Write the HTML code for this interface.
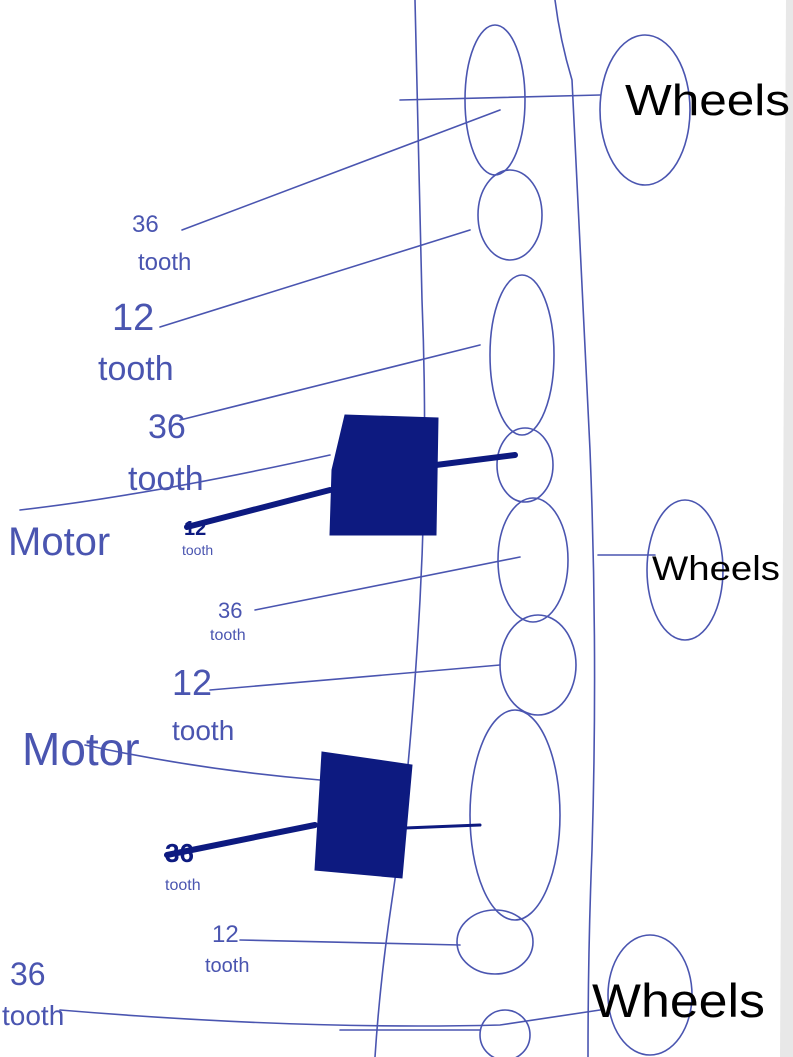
<!DOCTYPE html>
<html><head><meta charset="utf-8"><style>
html,body{margin:0;padding:0;background:#fff;}
svg{display:block}
text{font-family:"Liberation Sans",sans-serif;fill:#4a55b0;}
</style></head><body>
<svg width="793" height="1057" viewBox="0 0 793 1057" xmlns="http://www.w3.org/2000/svg">
<rect width="793" height="1057" fill="#fff"/>
<polygon points="786,0 793,0 793,1057 780,1057" fill="#e8e8e8"/>
<g fill="none" stroke="#4a55b0" stroke-width="1.6" stroke-linecap="round">
<path d="M415,0 Q418,150 422,300 Q428,450 420,600 Q410,780 392,900 Q380,980 375,1057"/>
<path d="M555,0 Q560,40 572,80 Q580,250 590,450 Q598,650 592,850 Q588,950 588,1057"/>
<ellipse cx="495" cy="100" rx="30" ry="75"/>
<ellipse cx="510" cy="215" rx="32" ry="45"/>
<ellipse cx="522" cy="355" rx="32" ry="80"/>
<ellipse cx="525" cy="465" rx="28" ry="37"/>
<ellipse cx="533" cy="560" rx="35" ry="62"/>
<ellipse cx="538" cy="665" rx="38" ry="50"/>
<ellipse cx="515" cy="815" rx="45" ry="105"/>
<ellipse cx="495" cy="942" rx="38" ry="32"/>
<ellipse cx="505" cy="1035" rx="25" ry="25"/>
<ellipse cx="645" cy="110" rx="45" ry="75"/>
<ellipse cx="685" cy="570" rx="38" ry="70"/>
<ellipse cx="650" cy="995" rx="42" ry="60"/>
<path d="M400,100 L600,95"/>
<path d="M182,230 L500,110"/>
<path d="M160,327 L470,230"/>
<path d="M180,420 L480,345"/>
<path d="M20,510 Q150,495 330,455"/>
<path d="M255,610 L520,557"/>
<path d="M210,690 L500,665"/>
<path d="M598,555 L655,555"/>
<path d="M85,745 Q200,770 320,780"/>
<path d="M240,940 L460,945"/>
<path d="M60,1010 Q300,1030 500,1025 L600,1010"/>
<path d="M340,1030 L480,1030"/>
</g>
<g fill="#0d1a80" stroke="#0d1a80" stroke-linecap="round">
<path d="M345,415 L438,418 L436,535 L330,535 L332,470 Z"/>
<path d="M322,752 L412,765 L402,878 L315,870 Z"/>
<line x1="187" y1="527" x2="330" y2="490" stroke-width="6"/>
<line x1="436" y1="465" x2="515" y2="455" stroke-width="6"/>
<line x1="167" y1="855" x2="315" y2="825" stroke-width="6"/>
<line x1="405" y1="828" x2="480" y2="825" stroke-width="3"/>
</g>
<text x="184" y="535" font-size="20" style="fill:#0d1a80;font-weight:bold">12</text>
<text x="165" y="862" font-size="26" style="fill:#0d1a80;font-weight:bold">36</text>
<text x="132" y="232" font-size="24">36</text>
<text x="138" y="270" font-size="24">tooth</text>
<text x="112" y="330" font-size="38">12</text>
<text x="98" y="380" font-size="34">tooth</text>
<text x="148" y="438" font-size="34">36</text>
<text x="128" y="490" font-size="34">tooth</text>
<text x="8" y="555" font-size="40">Motor</text>
<text x="182" y="555" font-size="14">tooth</text>
<text x="218" y="618" font-size="22">36</text>
<text x="210" y="640" font-size="16">tooth</text>
<text x="172" y="695" font-size="36">12</text>
<text x="172" y="740" font-size="28">tooth</text>
<text x="22" y="765" font-size="46">Motor</text>
<text x="165" y="890" font-size="16">tooth</text>
<text x="212" y="942" font-size="24">12</text>
<text x="205" y="972" font-size="20">tooth</text>
<text x="10" y="985" font-size="32">36</text>
<text x="2" y="1025" font-size="28">tooth</text>
<text x="625" y="115" font-size="44" textLength="165" lengthAdjust="spacingAndGlyphs" style="fill:#000">Wheels</text>
<text x="652" y="580" font-size="34" textLength="128" lengthAdjust="spacingAndGlyphs" style="fill:#000">Wheels</text>
<text x="592" y="1017" font-size="47" textLength="173" lengthAdjust="spacingAndGlyphs" style="fill:#000">Wheels</text>
</svg>
</body></html>
